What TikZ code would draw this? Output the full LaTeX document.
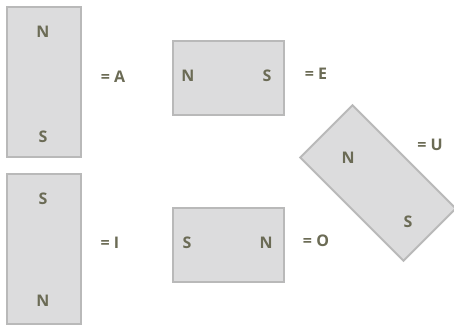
\documentclass[tikz,border=0pt]{standalone}
\usepackage{fontspec}
\setmainfont{Open Sans}
\definecolor{magfill}{HTML}{DCDCDD}
\definecolor{magline}{HTML}{B9B9B9}
\definecolor{txt}{HTML}{6B6B55}
\begin{document}
\begin{tikzpicture}[x=1pt,y=-1pt,
  magnet/.style={draw=magline,line width=2pt,fill=magfill,minimum width=74pt,minimum height=150pt,inner sep=0pt},
  magh/.style={draw=magline,line width=2pt,fill=magfill,minimum width=111pt,minimum height=74pt,inner sep=0pt},
  pole/.style={text=txt,font=\fontsize{16}{19}\selectfont\bfseries,inner sep=0pt},
  lbl/.style={text=txt,font=\fontsize{16}{19}\selectfont\bfseries,inner sep=0pt}]
\useasboundingbox (0,0) rectangle (454,325);
% A
\node[magnet] (mA) at (44,82) {};
\node[pole] (mAn) at (43,32) {N};
\node[pole] (mAs) at (43,137) {S};
\node[lbl] (lA) at (113,77) {= A};
% E
\node[magh] (mE) at (228,78) {};
\node[pole] (mEn) at (188,76) {N};
\node[pole] (mEs) at (267,76) {S};
\node[lbl] (lE) at (316,74) {= E};
% I
\node[magnet] (mI) at (44,248.5) {};
\node[pole] (mIs) at (43,199) {S};
\node[pole] (mIn) at (43,301) {N};
\node[lbl] (lI) at (110,243) {= I};
% O
\node[magh] (mO) at (228.5,245) {};
\node[pole] (mOs) at (187,243) {S};
\node[pole] (mOn) at (266,243) {N};
\node[lbl] (lO) at (316,241) {= O};
% U
\node[magnet,minimum height=146pt,rotate=45] (mU) at (378,183) {};
\node[pole] (mUn) at (348,158) {N};
\node[pole] (mUs) at (408,222) {S};
\node[lbl] (lU) at (430,145) {= U};
\end{tikzpicture}
\end{document}
